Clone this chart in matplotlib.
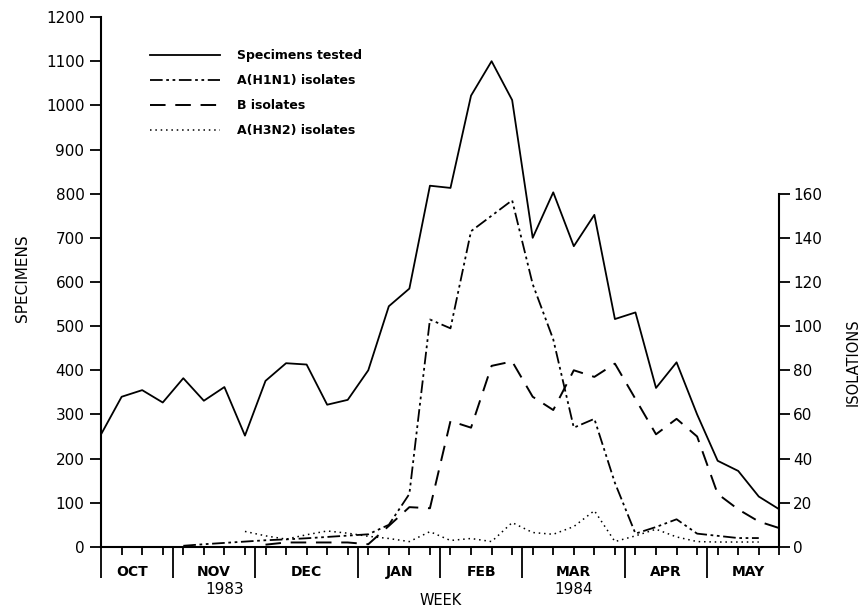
import matplotlib
matplotlib.use("Agg")
import matplotlib.pyplot as plt
import matplotlib.transforms as mtransforms

# weeks from early October 1983 (0) to late May 1984 (33)
weeks = list(range(34))

specimens = [255, 340, 355, 327, 382, 331, 362, 252, 376, 416,
             413, 322, 333, 400, 545, 585, 818, 813, 1022, 1100,
             1012, 700, 803, 681, 752, 516, 531, 360, 418, 300,
             195, 172, 114, 85]

h1n1_weeks = list(range(4, 33))
h1n1 = [0.5, 1.2, 1.8, 2.4, 3.0, 3.4, 3.9, 4.5, 5.1, 5.7,
        10, 24, 103, 99, 143, 150, 157, 119, 94, 54,
        58, 29, 6, 9, 12.5, 6, 5, 4, 4]

b_weeks = list(range(8, 34))
b_iso = [1, 2, 2, 2, 2, 1.2, 9.5, 18, 17.5, 57,
         54, 82, 84, 68, 62, 80, 77, 83, 67, 51,
         58, 50, 24, 17, 11.5, 8.5]

h3n2_weeks = list(range(7, 33))
h3n2 = [7, 5, 3.5, 5.5, 7.2, 6.2, 4.8, 3.8, 2.4, 6.9,
        2.9, 3.8, 2.4, 11, 6.5, 5.7, 9.2, 16.4, 2.4, 5,
        8, 4.5, 2.4, 2.2, 2.2, 2.2]

months = ["OCT", "NOV", "DEC", "JAN", "FEB", "MAR", "APR", "MAY"]
month_centers = [1.5, 5.5, 10, 14.5, 18.5, 23, 27.5, 31.5]
month_breaks = [3.5, 7.5, 12.5, 16.5, 20.5, 25.5, 29.5]

fig = plt.figure(figsize=(8.64, 6.09), dpi=100)
ax = fig.add_axes([0.117, 0.102, 0.785, 0.870])
ax2 = ax.twinx()

ax.plot(weeks, specimens, color="black", lw=1.3, label="Specimens tested")
ax2.plot(h1n1_weeks, h1n1, color="black", lw=1.3,
         linestyle=(0, (7, 2, 1.5, 2, 1.5, 2)), label="A(H1N1) isolates")
ax2.plot(b_weeks, b_iso, color="black", lw=1.4,
         linestyle=(0, (8, 5)), label="B isolates")
ax2.plot(h3n2_weeks, h3n2, color="black", lw=1.1,
         linestyle=(0, (1, 2.5)), label="A(H3N2) isolates")

# axes limits and spines
ax.set_xlim(0, 33)
ax.set_ylim(0, 1200)
ax2.set_ylim(0, 240)
for a in (ax, ax2):
    a.spines["top"].set_visible(False)
    for s in a.spines.values():
        s.set_linewidth(1.5)
ax.spines["right"].set_visible(False)
ax2.spines["left"].set_visible(False)
ax2.spines["bottom"].set_visible(False)
ax2.spines["right"].set_bounds(0, 160)

ax.set_yticks(range(0, 1201, 100))
ax2.set_yticks(range(0, 161, 20))
ax.tick_params(axis="y", direction="out", length=8, width=1.3, labelsize=11, pad=4)
ax2.tick_params(axis="y", direction="out", length=8, width=1.3, labelsize=11, pad=2)

# weekly ticks plus long month separators below the axis
ax.set_xticks(range(1, 34))
ax.set_xticklabels([])
ax.tick_params(axis="x", which="major", direction="out", length=6, width=1.3)
ax.set_xticks([0] + month_breaks, minor=True)
ax.tick_params(axis="x", which="minor", direction="out", length=22, width=1.3)

trans = mtransforms.blended_transform_factory(ax.transData, ax.transAxes)
for m, c in zip(months, month_centers):
    ax.text(c, -0.047, m, transform=trans, ha="center", va="center",
            fontsize=10, fontweight="bold")
ax.text(6, -0.081, "1983", transform=trans, ha="center", va="center", fontsize=11)
ax.text(23, -0.081, "1984", transform=trans, ha="center", va="center", fontsize=11)
ax.text(16.5, -0.101, "WEEK", transform=trans, ha="center", va="center", fontsize=10.5)

ax.set_ylabel("SPECIMENS", fontsize=11)
ax.yaxis.set_label_coords(-0.105, 0.508)
ax2.set_ylabel("ISOLATIONS", fontsize=10.5, rotation=90)
ax2.yaxis.set_label_coords(1.098, 0.349)

h1, l1 = ax.get_legend_handles_labels()
h2, l2 = ax2.get_legend_handles_labels()
leg = ax.legend(h1 + h2, l1 + l2, loc="upper left", bbox_to_anchor=(0.055, 0.96),
                frameon=False, handlelength=5.6, handletextpad=1.4,
                labelspacing=0.95, prop={"size": 9, "weight": "bold"})

fig.savefig("out.png", dpi=100)
